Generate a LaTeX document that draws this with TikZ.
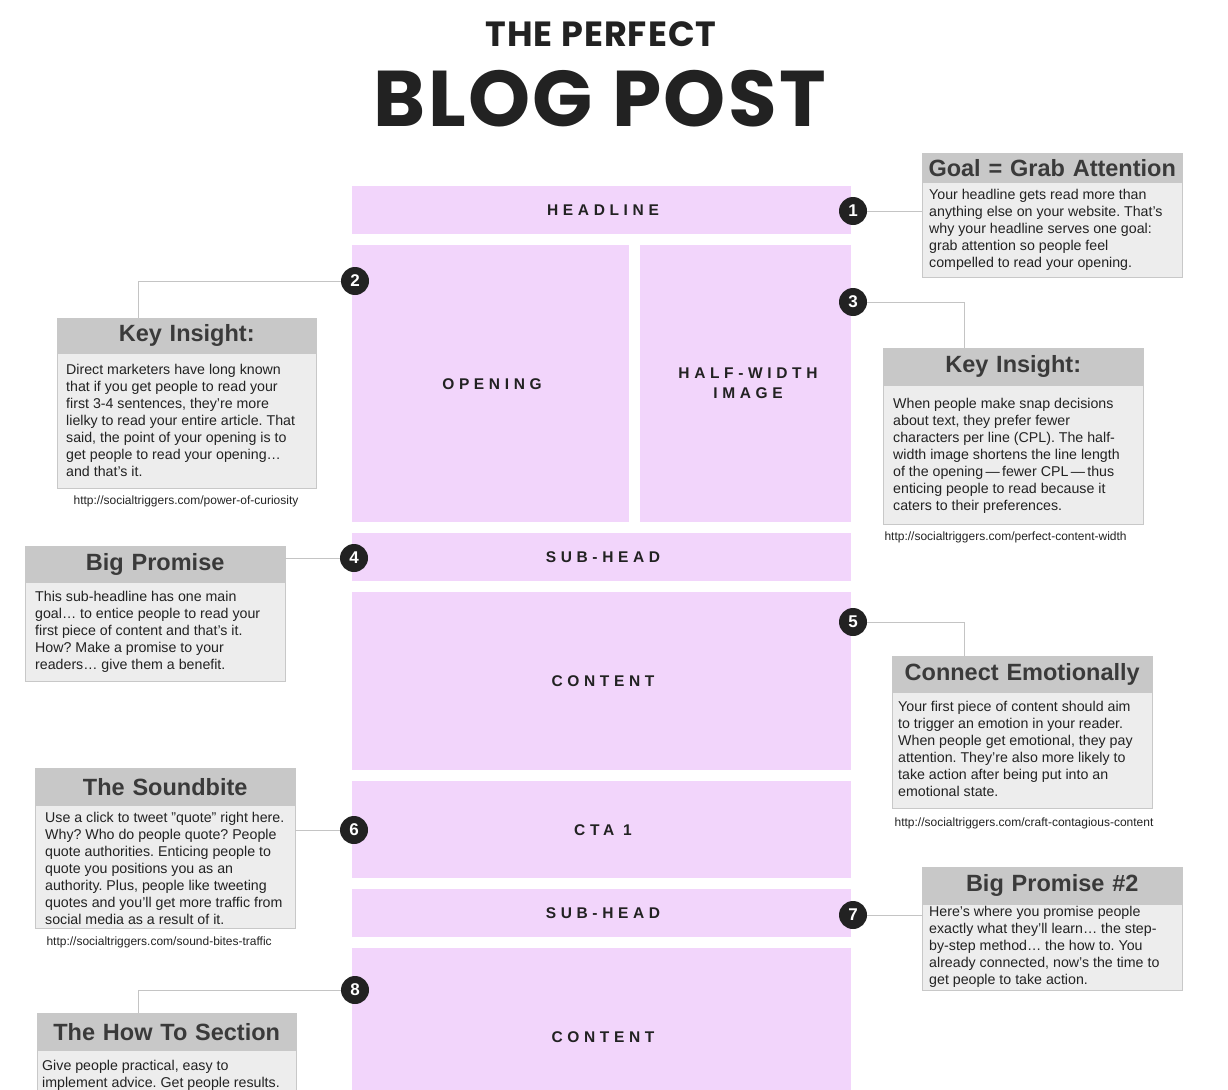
\documentclass[tikz,border=0pt]{standalone}
\usepackage{fontspec}
\setmainfont{Liberation Sans}
\newfontfamily\titlefont{Poppins}
\definecolor{pinkbox}{HTML}{F2D5FB}
\definecolor{hdrfill}{HTML}{C8C8C8}
\definecolor{bodfill}{HTML}{EDEDED}
\definecolor{ink}{HTML}{222222}
\definecolor{hdrink}{HTML}{3A3A3A}
\definecolor{linec}{HTML}{C4C4C4}
\frenchspacing
\begin{document}
\begin{tikzpicture}[x=1pt,y=-1pt,
  pbox/.style={fill=pinkbox,draw=none},
  plabel/.style={font=\bfseries\fontsize{15.5}{20}\selectfont\addfontfeature{LetterSpace=30}, text=ink, align=center},
  badge/.style={circle,fill=ink,text=white,minimum size=28pt,inner sep=0pt,font=\bfseries\fontsize{17}{17}\selectfont},
  hdr/.style={fill=hdrfill,draw=hdrfill,anchor=north west,inner sep=0pt,font=\bfseries\fontsize{23.5}{24}\selectfont,text=hdrink,align=center},
  bbg/.style={fill=bodfill,draw=hdrfill},
  bod/.style={anchor=north west,inner sep=0pt,font=\fontsize{14.2}{17}\selectfont,text=ink,align=left},
  url/.style={font=\fontsize{12}{13}\selectfont,text=ink},
  conn/.style={draw=linec,line width=0.9pt}]
\useasboundingbox (0,0) rectangle (1228,1089);
% title
\node[text=ink] (t1) at (601,34) {\titlefont\bfseries\fontsize{35}{35}\selectfont\addfontfeature{LetterSpace=3}THE PERFECT};
\node[text=ink] (t2) at (600,99) {\titlefont\bfseries\fontsize{79}{79}\selectfont\addfontfeature{LetterSpace=3}BLOG POST};
% pink boxes
\fill[pbox] (352,186) rectangle (851,234);
\fill[pbox] (352,245) rectangle (629,522);
\fill[pbox] (640,245) rectangle (851,522);
\fill[pbox] (352,533) rectangle (851,581);
\fill[pbox] (352,592) rectangle (851,770);
\fill[pbox] (352,781) rectangle (851,878);
\fill[pbox] (352,889) rectangle (851,937);
\fill[pbox] (352,948) rectangle (851,1100);
\node[plabel] (pl1) at (603,210) {HEADLINE};
\node[plabel] (pl2) at (492,384) {OPENING};
\node[plabel] (pl3) at (748,383) {HALF-WIDTH\\IMAGE};
\node[plabel] (pl4) at (603,557) {SUB-HEAD};
\node[plabel] (pl5) at (603,681) {CONTENT};
\node[plabel] (pl6) at (603,830) {CTA 1};
\node[plabel] (pl7) at (603,913) {SUB-HEAD};
\node[plabel] (pl8) at (603,1037) {CONTENT};
% body backgrounds
\draw[bbg] (922,182) rectangle (1182,277);
\draw[bbg] (57,353) rectangle (316,488);
\draw[bbg] (883,385) rectangle (1143,524);
\draw[bbg] (25,582) rectangle (285,681);
\draw[bbg] (892,692) rectangle (1152,808);
\draw[bbg] (35,805) rectangle (295,928);
\draw[bbg] (922,904) rectangle (1182,990);
\draw[bbg] (37,1050) rectangle (296,1110);
% 1 Goal
\node[hdr,minimum width=260pt,minimum height=29pt,text width=260pt] (h1) at (922,153) {Goal = Grab Attention};
\node[bod] (b1) at (929,189) {Your headline gets read more than\\anything else on your website. That's\\why your headline serves one goal:\\grab attention so people feel\\compelled to read your opening.};
% 2 Key insight left
\node[hdr,minimum width=259pt,minimum height=35pt,text width=259pt] (h2) at (57,318) {Key Insight:};
\node[bod] (b2) at (66,364) {Direct marketers have long known\\that if you get people to read your\\first 3-4 sentences, they're more\\lielky to read your entire article. That\\said, the point of your opening is to\\get people to read your opening\dots\\and that's it.};
\node[url] (u2) at (186,501) {http://socialtriggers.com/power-of-curiosity};
% 3 Key insight right
\node[hdr,minimum width=260pt,minimum height=37pt,text width=260pt] (h3) at (883,348) {Key Insight:};
\node[bod] (b3) at (893,398) {When people make snap decisions\\about text, they prefer fewer\\characters per line (CPL). The half-\\width image shortens the line length\\of the opening\,---\,fewer CPL\,---\,thus\\enticing people to read because it\\caters to their preferences.};
\node[url,anchor=west] (u3) at (881,537) {http://socialtriggers.com/perfect-content-width};
% 4 Big Promise
\node[hdr,minimum width=260pt,minimum height=36pt,text width=260pt] (h4) at (25,546) {Big Promise};
\node[bod] (b4) at (35,591) {This sub-headline has one main\\goal\dots{} to entice people to read your\\first piece of content and that's it.\\How? Make a promise to your\\readers\dots{} give them a benefit.};
% 5 Connect emotionally
\node[hdr,minimum width=260pt,minimum height=36pt,text width=260pt] (h5) at (892,656) {Connect Emotionally};
\node[bod] (b5) at (898,701) {Your first piece of content should aim\\to trigger an emotion in your reader.\\When people get emotional, they pay\\attention. They're also more likely to\\take action after being put into an\\emotional state.};
\node[url] (u5) at (1024,823) {http://socialtriggers.com/craft-contagious-content};
% 6 Soundbite
\node[hdr,minimum width=260pt,minimum height=37pt,text width=260pt] (h6) at (35,768) {The Soundbite};
\node[bod] (b6) at (45,812) {Use a click to tweet "quote" right here.\\Why? Who do people quote? People\\quote authorities. Enticing people to\\quote you positions you as an\\authority. Plus, people like tweeting\\quotes and you'll get more traffic from\\social media as a result of it.};
\node[url,anchor=west] (u6) at (43,942) {http://socialtriggers.com/sound-bites-traffic};
% 7 Big promise 2
\node[hdr,minimum width=260pt,minimum height=37pt,text width=260pt] (h7) at (922,867) {Big Promise \#2};
\node[bod] (b7) at (929,906) {Here's where you promise people\\exactly what they'll learn\dots{} the step-\\by-step method\dots{} the how to. You\\already connected, now's the time to\\get people to take action.};
% 8 How to
\node[hdr,minimum width=259pt,minimum height=37pt,text width=259pt] (h8) at (37,1013) {The How To Section};
\node[bod] (b8) at (42,1060) {Give people practical, easy to\\implement advice. Get people results.};
% connectors
\coordinate (c2) at (138,281);
\coordinate (c3) at (964,302);
\coordinate (c5) at (964,622);
\coordinate (c8) at (138,990);
\node[badge] (n1) at (853,211) {1};
\node[badge] (n2) at (355,281) {2};
\node[badge] (n3) at (853,302) {3};
\node[badge] (n4) at (354,558) {4};
\node[badge] (n5) at (853,622) {5};
\node[badge] (n6) at (354,830) {6};
\node[badge] (n7) at (853,915) {7};
\node[badge] (n8) at (355,990) {8};
\draw[conn] (n1) -- (n1 -| h1.west);
\draw[conn] (n2) -- (c2) -- (h2.north -| c2);
\draw[conn] (n3) -- (c3) -- (h3.north -| c3);
\draw[conn] (n4) -- (n4 -| h4.east);
\draw[conn] (n5) -- (c5) -- (h5.north -| c5);
\draw[conn] (n6) -- (n6 -| h6.east);
\draw[conn] (n7) -- (n7 -| h7.west);
\draw[conn] (n8) -- (c8) -- (h8.north -| c8);
\end{tikzpicture}
\end{document}
